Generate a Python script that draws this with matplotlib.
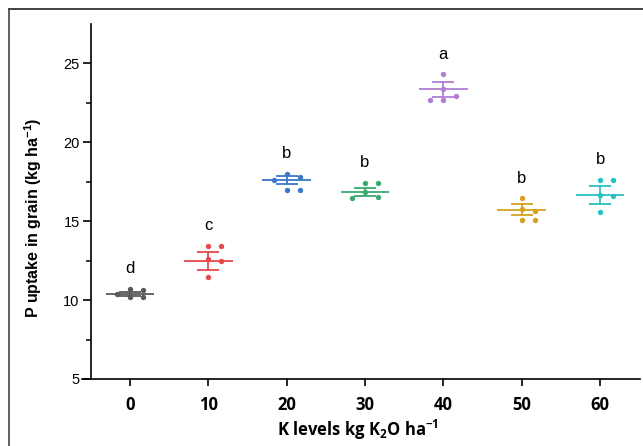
import numpy as np
import matplotlib
matplotlib.use("Agg")
import matplotlib.pyplot as plt
from matplotlib.lines import Line2D

plt.rcParams["mathtext.default"] = "regular"

# K levels (kg K2O/ha) and P uptake in grain
niveaux = ["0", "10", "20", "30", "40", "50", "60"]
points = [
    [10.70, 10.65, 10.40, 10.20, 10.20],
    [13.45, 13.45, 12.60, 12.50, 11.45],
    [18.00, 17.80, 17.60, 16.95, 16.95],
    [17.42, 17.42, 16.85, 16.55, 16.50],
    [24.30, 23.35, 22.95, 22.70, 22.70],
    [16.45, 15.75, 15.63, 15.10, 15.10],
    [17.63, 17.63, 16.65, 16.60, 15.60],
]
moyennes = [10.38, 12.49, 17.59, 16.85, 23.35, 15.74, 16.65]
erreurs = [0.12, 0.56, 0.26, 0.26, 0.46, 0.37, 0.56]
lettres = ["d", "c", "b", "b", "a", "b", "b"]
couleurs = ["#5a5a5a", "#e5484d", "#3a78c8", "#3aaa6e", "#b07fd4", "#d4a21c", "#27c1c4"]


def essaim(valeurs, pas=0.165, seuil=0.45):
    # simple beeswarm: centre first, then right / left
    places = []
    xs = []
    for v in valeurs:
        for k in [0, 1, -1, 2, -2]:
            if all(not (kk == k and abs(v - vv) < seuil) for kk, vv in places):
                places.append((k, v))
                xs.append(k * pas)
                break
    return xs


fig = plt.figure(figsize=(6.43, 4.46), dpi=100)
ax = fig.add_axes([82 / 643, 1 - 379 / 446, (640 - 82) / 643, (379 - 24) / 446])

for i, vals in enumerate(points):
    c = couleurs[i]
    dx = essaim(vals)
    ax.scatter([i + d for d in dx], vals, s=15, color=c, zorder=3, linewidths=0)
    ax.hlines(moyennes[i], i - 0.31, i + 0.31, color=c, lw=1.3, zorder=2)
    ax.errorbar(i, moyennes[i], yerr=erreurs[i], fmt="none", ecolor=c,
                elinewidth=1.3, capsize=8, capthick=1.3, zorder=2)
    ax.annotate(lettres[i], (i, max(vals)), xytext=(0, 14.5), textcoords="offset points",
                ha="center", va="center", fontsize=12, family="Liberation Sans")

ax.set_xlim(-0.613, 6.51)
ax.set_ylim(5, 27.5)
ax.spines["top"].set_visible(False)
ax.spines["right"].set_visible(False)
ax.spines["left"].set_position(("data", -0.5))
ax.spines["left"].set_linewidth(1.2)
ax.spines["bottom"].set_linewidth(1.2)

ax.set_xticks(range(len(niveaux)))
ax.set_xticklabels(niveaux, fontsize=12, fontweight="bold", family="Open Sans")
ax.set_yticks([5, 10, 15, 20, 25])
ax.set_yticks([7.5, 12.5, 17.5, 22.5], minor=True)
ax.tick_params(axis="y", which="major", length=6, width=1.2, labelsize=10.5, pad=2)
ax.tick_params(axis="y", which="minor", length=3.5, width=1.1)
ax.tick_params(axis="x", length=5, width=1.2, pad=7)
for lab in ax.get_yticklabels():
    lab.set_family("Liberation Sans")

ax.set_ylabel("P uptake in grain (kg ha$^{-1}$)", fontsize=11.5, fontweight="bold",
              family="Liberation Sans", va="center")
ax.yaxis.set_label_coords(-0.088, 0.455)
ax.set_xlabel("K levels kg K$_2$O ha$^{-1}$", fontsize=12, fontweight="bold",
              family="Open Sans", va="center")
ax.xaxis.set_label_coords(0.495, -0.144)

# cadre autour de la figure
fig.add_artist(Line2D([9 / 643, 1], [1 - 9 / 446, 1 - 9 / 446], color="#222222", lw=1.2,
                      transform=fig.transFigure))
fig.add_artist(Line2D([9 / 643, 9 / 643], [0, 1 - 9 / 446], color="#444444", lw=1.2,
                      transform=fig.transFigure))

fig.savefig("out.png", dpi=100)
